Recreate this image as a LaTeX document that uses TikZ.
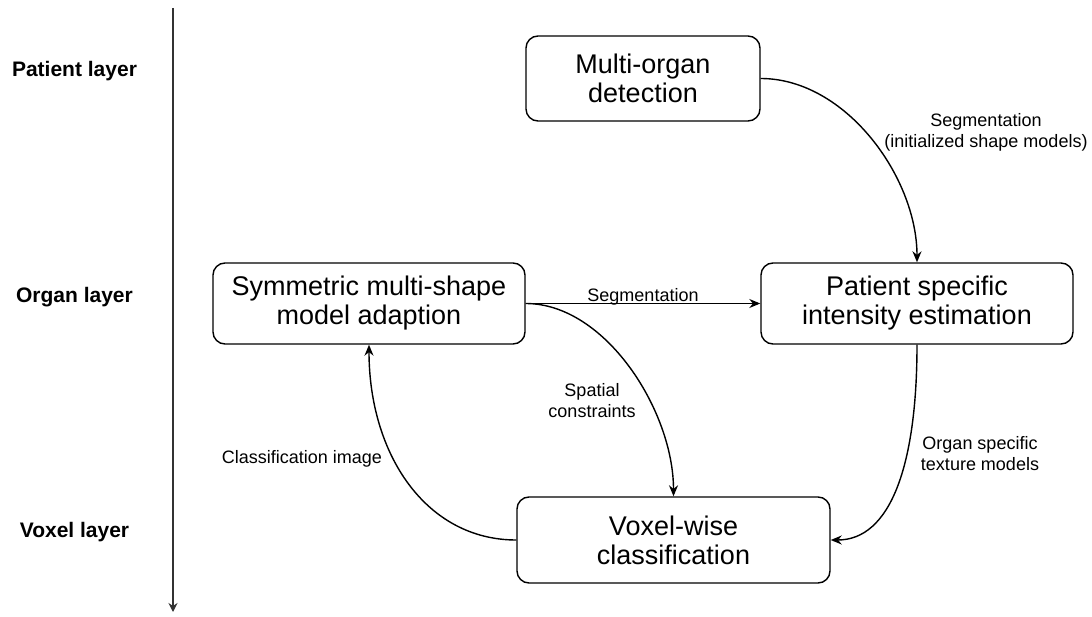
\documentclass[tikz,border=0pt]{standalone}
\usepackage{fontspec}
\setmainfont{Liberation Sans}
\usetikzlibrary{arrows.meta}
\begin{document}
\begin{tikzpicture}[x=1pt,y=-1pt,
 box/.style={draw, line width=1.4pt, rounded corners=12pt, align=center, inner sep=0pt, font=\fontsize{27}{29}\selectfont},
 lbl/.style={align=center, inner sep=0pt, font=\fontsize{18}{21}\selectfont},
 layer/.style={inner sep=0pt, font=\fontsize{21}{24}\selectfont\bfseries},
 edge/.style={line width=1.4pt, -{Stealth[length=11pt,width=9pt]}}]
\useasboundingbox (0,0) rectangle (1092,617);
% layer axis
\coordinate (atop) at (173,8);
\coordinate (abot) at (173,612);
\draw[line width=2pt, black!80, -{Stealth[length=9pt,width=9pt]}] (atop) -- (abot);
\node[layer] (lp) at (74.5,71) {Patient layer};
\node[layer] (lo) at (74.5,297) {Organ layer};
\node[layer] (lv) at (74.5,532) {Voxel layer};
% boxes
\node[box, minimum width=234pt, minimum height=85pt] (mod) at (643,78.5) {Multi-organ\\detection};
\node[box, minimum width=312pt, minimum height=81pt] (sym) at (369,303.5) {Symmetric multi-shape\\model adaption};
\node[box, minimum width=312pt, minimum height=81pt] (pse) at (917,303.5) {Patient specific\\intensity estimation};
\node[box, minimum width=313pt, minimum height=86pt] (vox) at (673.5,540) {Voxel-wise\\classification};
% edges
\draw[edge] (mod.east) .. controls +(85,0) and +(0,-85) .. (pse.north);
\draw[edge] (sym.east) -- (pse.west);
\draw[edge] (sym.east) .. controls +(80,0) and +(0,-85) .. (vox.north);
\draw[edge] (pse.south) .. controls +(0,120) and +(60,0) .. (vox.east);
\draw[edge] (vox.west) .. controls +(-90,0) and +(0,110) .. (sym.south);
% edge labels
\node[lbl] (l1) at (986,132) {Segmentation\\(initialized shape models)};
\node[lbl, anchor=base] (l2) at (643,301.5) {Segmentation};
\node[lbl] (l3) at (592,401) {Spatial\\constraints};
\node[lbl] (l4) at (980,454) {Organ specific\\texture models};
\node[lbl] (l5) at (302,459) {Classification image};
\end{tikzpicture}
\end{document}
